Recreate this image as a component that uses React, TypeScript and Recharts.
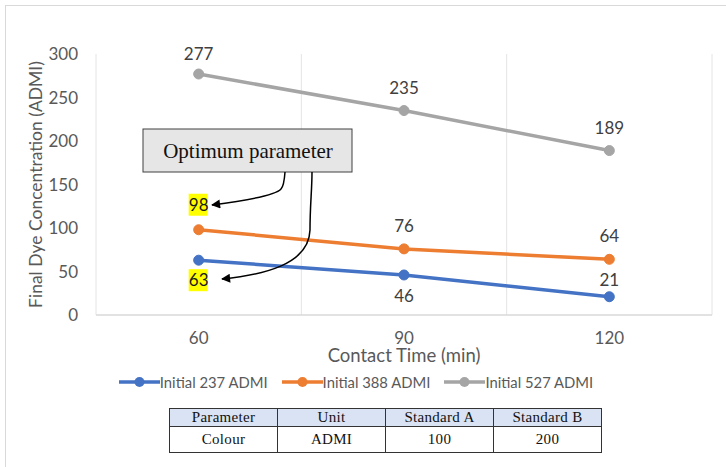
import { CartesianGrid, LabelList, Legend, Line, LineChart, XAxis, YAxis } from "recharts"

// contact time categories (min)
const timeLabels = ["60", "90", "120"]

// final dye concentration (ADMI) for each starting concentration
const initial237 = [63, 46, 21]
const initial388 = [98, 76, 64]
const initial527 = [277, 235, 189]

const seriesKeys = ["s237", "s388", "s527"]
const seriesNames = ["Initial 237 ADMI", "Initial 388 ADMI", "Initial 527 ADMI"]
const seriesColors = ["#4472C4", "#ED7D31", "#A5A5A5"]

const yTicks = [0, 50, 100, 150, 200, 250, 300]

const tableHead = ["Parameter", "Unit", "Standard A", "Standard B"]
const tableRow = ["Colour", "ADMI", "100", "200"]

// label placement relative to each point (px, negative = above)
const labelShift = [
  [20, 21, -17],
  [-25, -23, -23],
  [-20, -23, -23],
]
// labels picked out with a yellow highlight
const labelMarked = [
  [true, false, false],
  [true, false, false],
  [false, false, false],
]

const data = timeLabels.map((time, i) => ({
  time,
  s237: initial237[i],
  s388: initial388[i],
  s527: initial527[i],
}))

const FONT = "Lato, 'Open Sans', sans-serif"
const TEXT = "#595959"

const W = 726
const H = 467
const Y_AXIS_W = 96
const RIGHT = 14
// half a category on each side so points sit mid-band
const halfBand = (W - Y_AXIS_W - RIGHT) / (timeLabels.length * 2)

const makeLabel = (shift: number[], marked: boolean[]) => (props: any) => {
  const { value, index } = props
  const x = props.x ?? props.viewBox?.x
  const y = props.y ?? props.viewBox?.y
  if (x == null || y == null) return null
  const cy = y + shift[index]
  return (
    <g>
      {marked[index] && <rect x={x - 10} y={cy - 11} width={19} height={22} fill="#FFFF00" />}
      <text
        x={x}
        y={cy + 6}
        textAnchor="middle"
        fontSize={17}
        fontFamily={FONT}
        fill={marked[index] ? "#1a1a1a" : "#404040"}
      >
        {value}
      </text>
    </g>
  )
}

const YTitle = (props: any) => {
  const vb = props.viewBox
  const cy = vb.y + vb.height / 2
  return (
    <text
      x={35}
      y={cy}
      transform={`rotate(-90, 35, ${cy})`}
      textAnchor="middle"
      dominantBaseline="central"
      fontSize={17.5}
      fontFamily={FONT}
      fill={TEXT}
    >
      Final Dye Concentration (ADMI)
    </text>
  )
}

const XTitle = (props: any) => {
  const vb = props.viewBox
  return (
    <text x={vb.x + vb.width / 2} y={362} textAnchor="middle" fontSize={18.5} fontFamily={FONT} fill={TEXT}>
      Contact Time (min)
    </text>
  )
}

const LegendRow = () => (
  <div
    style={{
      display: "flex",
      justifyContent: "center",
      alignItems: "center",
      gap: 14,
      height: 22,
      fontFamily: FONT,
      fontSize: 14.8,
      color: TEXT,
    }}
  >
    {seriesNames.map((name, i) => (
      <div key={name} style={{ display: "flex", alignItems: "center" }}>
        <svg width={41} height={12}>
          <line x1={0} y1={6} x2={41} y2={6} stroke={seriesColors[i]} strokeWidth={3.5} />
          <circle cx={20.5} cy={6} r={5} fill={seriesColors[i]} />
        </svg>
        <span style={{ whiteSpace: "nowrap" }}>{name}</span>
      </div>
    ))}
  </div>
)

// gridlines sit between categories, Excel style
const betweenCategories = ({ offset }: any) => {
  const n = timeLabels.length
  return Array.from({ length: n + 1 }, (_, i) => offset.left + (i * offset.width) / n)
}

const cellStyle = {
  border: "1px solid #333",
  textAlign: "center" as const,
  padding: 0,
  fontFamily: "'Liberation Serif', serif",
  fontSize: 15,
  letterSpacing: 0.3,
  color: "#111",
}

export default function App() {
  return (
    <div style={{ position: "absolute", left: 0, top: 0, width: W, height: H, background: "#fff" }}>
      <div
        style={{
          position: "absolute",
          left: 5,
          top: 5,
          right: 0,
          bottom: 0,
          borderTop: "1.5px solid #d9d9d9",
          borderLeft: "1.5px solid #d9d9d9",
        }}
      />
      <LineChart width={W} height={H} data={data} margin={{ top: 54, right: RIGHT, bottom: 74, left: 0 }}>
        <CartesianGrid horizontal={false} stroke="#e4e4e4" verticalCoordinatesGenerator={betweenCategories} />
        <XAxis
          dataKey="time"
          height={56}
          padding={{ left: halfBand, right: halfBand }}
          tickLine={false}
          tickMargin={11}
          axisLine={{ stroke: "#d9d9d9", strokeWidth: 1.5 }}
          tick={{ fontSize: 17, fontFamily: FONT, fill: TEXT }}
          label={<XTitle />}
        />
        <YAxis
          width={Y_AXIS_W}
          domain={[0, 300]}
          ticks={yTicks}
          axisLine={false}
          tickLine={false}
          tickMargin={12}
          tick={{ fontSize: 17, fontFamily: FONT, fill: TEXT }}
          label={<YTitle />}
        />
        <Legend verticalAlign="bottom" height={22} content={<LegendRow />} />
        {seriesKeys.map((key, i) => (
          <Line
            key={key}
            dataKey={key}
            name={seriesNames[i]}
            type="linear"
            stroke={seriesColors[i]}
            strokeWidth={3.5}
            dot={{ r: 5, fill: seriesColors[i], stroke: seriesColors[i], strokeWidth: 1 }}
            activeDot={false}
            isAnimationActive={false}
          >
            <LabelList dataKey={key} content={makeLabel(labelShift[i], labelMarked[i])} />
          </Line>
        ))}
      </LineChart>

      {/* callout with arrows pointing at the highlighted values */}
      <svg width={W} height={H} style={{ position: "absolute", left: 0, top: 0, pointerEvents: "none" }}>
        <defs>
          <marker id="head" viewBox="0 0 10 10" refX={9} refY={5} markerWidth={11} markerHeight={9} orient="auto" markerUnits="userSpaceOnUse">
            <path d="M0,0 L10,5 L0,10 z" fill="#000" />
          </marker>
        </defs>
        <rect x={143} y={129} width={209} height={43} fill="#e7e6e6" stroke="#404040" strokeWidth={1} />
        <text x={248} y={158} textAnchor="middle" fontSize={21} fontFamily="'Liberation Serif', serif" fill="#111">
          Optimum parameter
        </text>
        <path d="M285,172 Q284,186 281,189 Q274,197 212,205" fill="none" stroke="#000" strokeWidth={1.5} markerEnd="url(#head)" />
        <path d="M312,172 C312,190 310,205 310,230 C309,265 262,275 222,279" fill="none" stroke="#000" strokeWidth={1.5} markerEnd="url(#head)" />
      </svg>

      <table
        style={{
          position: "absolute",
          left: 169,
          top: 408,
          width: 433,
          borderCollapse: "collapse",
          tableLayout: "fixed",
        }}
      >
        <tbody>
          <tr style={{ height: 18, background: "#dae3f3" }}>
            {tableHead.map((h) => (
              <td key={h} style={cellStyle}>{h}</td>
            ))}
          </tr>
          <tr style={{ height: 26 }}>
            {tableRow.map((c) => (
              <td key={c} style={cellStyle}>{c}</td>
            ))}
          </tr>
        </tbody>
      </table>
    </div>
  )
}
